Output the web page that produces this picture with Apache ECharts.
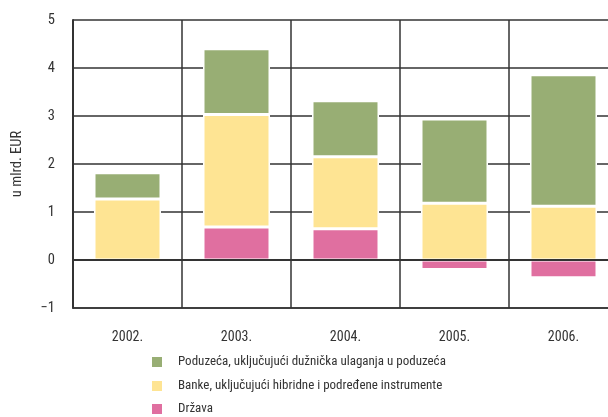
<!DOCTYPE html>
<html>
<head>
<meta charset="utf-8">
<script src="https://cdn.jsdelivr.net/npm/echarts@6/dist/echarts.min.js"></script>
<style>
  html, body { margin: 0; padding: 0; background: #fff; overflow: hidden; }
  #chart { width: 618px; height: 417px; }
</style>
</head>
<body>
<div id="chart"></div>
<script>
// Years on the category axis
const years = ['2002.', '2003.', '2004.', '2005.', '2006.'];

// Flows in billions of EUR, stacked per year
const drzava = [-0.03, 0.69, 0.65, -0.20, -0.37];
const banke = [1.27, 2.34, 1.50, 1.18, 1.12];
const poduzeca = [0.55, 1.37, 1.17, 1.76, 2.74];

// Series names shown in the legend
const names = [
  'Poduzeća, uključujući dužnička ulaganja u poduzeća',
  'Banke, uključujući hibridne i podređene instrumente',
  'Država'
];

const yTicks = { min: -1, max: 5, interval: 1 };

// Narrow type: a condensed face picked through font-stretch
const FONT = '"Roboto Condensed", Roboto, "DejaVu Sans"';
const STRETCH = 'condensed';
const INK = '#333333';
const colors = { green: '#98ae74', yellow: '#fee493', pink: '#e06fa0' };

const chart = echarts.init(document.getElementById('chart'), null, { renderer: 'canvas' });

const barBase = {
  type: 'bar',
  stack: 'total',
  barWidth: 67,
  z: 3
};

const txt = size => ({ fontFamily: FONT, fontWeight: STRETCH, fontSize: size, color: INK });

// One single-item legend per row keeps the rows at fixed positions
const legendRow = (name, top) => ({
  orient: 'vertical',
  left: 150,
  top: top,
  padding: 0,
  itemWidth: 12,
  itemHeight: 12,
  icon: 'rect',
  selectedMode: false,
  data: [name],
  textStyle: Object.assign(txt(13), { padding: [0, 0, 0, 10] })
});

chart.setOption({
  animation: false,
  textStyle: txt(14),
  grid: { left: 73, right: 0, top: 20, bottom: 109, containLabel: false },
  legend: [
    legendRow(names[0], 355),
    legendRow(names[1], 379),
    legendRow(names[2], 402)
  ],
  xAxis: {
    type: 'category',
    data: years,
    boundaryGap: true,
    axisLine: { onZero: false, lineStyle: { color: INK, width: 1.5 } },
    axisTick: { show: false },
    axisLabel: Object.assign(txt(14), { margin: 22 }),
    splitLine: { show: true, interval: 0, lineStyle: { color: INK, width: 1.5 } }
  },
  yAxis: {
    type: 'value',
    min: yTicks.min,
    max: yTicks.max,
    interval: yTicks.interval,
    name: 'u mlrd. EUR',
    nameLocation: 'middle',
    nameGap: 48,
    nameRotate: 90,
    nameTextStyle: txt(14.5),
    axisLine: { show: true, lineStyle: { color: INK, width: 2 } },
    axisTick: { show: false },
    axisLabel: Object.assign(txt(14.5), {
      margin: 18,
      formatter: v => (v < 0 ? '\u2212' + Math.abs(v) : String(v))
    }),
    splitLine: { show: true, lineStyle: { color: INK, width: 1.5 } }
  },
  series: [
    Object.assign({}, barBase, {
      name: names[2],
      data: drzava,
      itemStyle: { color: colors.pink, borderColor: '#fff', borderWidth: 1.5 },
      markLine: {
        silent: true,
        symbol: 'none',
        label: { show: false },
        lineStyle: { color: INK, width: 2, type: 'solid' },
        data: [{ yAxis: 0 }],
        z: 5
      }
    }),
    Object.assign({}, barBase, {
      name: names[1],
      data: banke,
      itemStyle: { color: colors.yellow, borderColor: '#fff', borderWidth: 1.5 }
    }),
    Object.assign({}, barBase, {
      name: names[0],
      data: poduzeca,
      itemStyle: { color: colors.green, borderColor: '#fff', borderWidth: 1.5 }
    })
  ]
});
</script>
</body>
</html>
